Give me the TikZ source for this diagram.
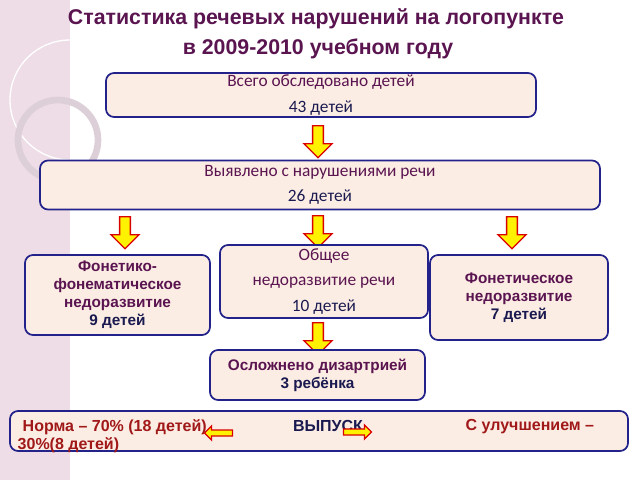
\documentclass[tikz,border=0pt]{standalone}
\usepackage{fontspec}
\setmainfont{Liberation Sans}
\newfontfamily\carl{Carlito}
\usetikzlibrary{shapes.arrows}
\definecolor{ttl}{HTML}{5A1450}
\definecolor{navy}{HTML}{1A1A50}
\definecolor{peach}{HTML}{FCEDE4}
\definecolor{bord}{HTML}{22228A}
\definecolor{dred}{HTML}{A01818}
\definecolor{strip}{HTML}{EEDDE6}
\tikzset{
 box/.style={draw=bord,line width=1.3pt,fill=peach,rounded corners=6pt,align=center,inner sep=0pt},
 cf/.style={font=\carl\fontsize{13}{19}\selectfont},
 bf/.style={font=\bfseries\fontsize{11.5}{13.5}\selectfont},
 dn/.style={single arrow,draw=red!85!black,fill=yellow,line width=1pt,shape border rotate=270,minimum height=32pt*0.75,minimum width=28pt*0.75,single arrow head extend=4pt,inner sep=2pt},
 sd/.style={single arrow,draw=red!85!black,fill=yellow,line width=1pt,minimum height=28pt*0.75,minimum width=14pt*0.75,single arrow head extend=2pt,inner sep=1pt}
}
\begin{document}
\begin{tikzpicture}[x=0.75pt,y=-0.75pt]
\useasboundingbox (0,0) rectangle (640,480);
\fill[strip] (0,0) rectangle (70,480);
\draw[white,line width=1pt] (70,100) circle (60);
\draw[strip!85!gray,line width=5pt] (58,140) circle (40);
\node[text=ttl,font=\bfseries\fontsize{16}{19}\selectfont] (t1) at (316,19) {Статистика речевых нарушений на логопункте};
\node[text=ttl,font=\bfseries\fontsize{16}{19}\selectfont] (t2) at (318,49) {в 2009-2010 учебном году};
\node[box,cf,minimum width=430*0.75pt,minimum height=44*0.75pt] (b1) at (321,95) {\textcolor{ttl}{Всего обследовано детей}\\\textcolor{navy}{43 детей}};
\node[dn] (a1) at (318,139) {};
\node[box,cf,minimum width=560*0.75pt,minimum height=49*0.75pt] (b2) at (320,185) {\textcolor{ttl}{Выявлено с нарушениями речи}\\\textcolor{navy}{26 детей}};
\node[dn] (a2) at (125,230) {};
\node[dn] (a3) at (318,229) {};
\node[dn] (a4) at (512,230) {};
\node[box,bf,minimum width=185*0.75pt,minimum height=80*0.75pt,text=ttl] (bl) at (117.5,295) {Фонетико-\\фонематическое\\недоразвитие\\\textcolor{navy}{9 детей}};
\node[box,cf,minimum width=208*0.75pt,minimum height=73*0.75pt,text=ttl] (bm) at (324,281.5) {Общее\\недоразвитие речи\\\textcolor{navy}{10 детей}};
\node[box,bf,minimum width=178*0.75pt,minimum height=85*0.75pt,text=ttl] (br) at (519,297.5) {Фонетическое\\недоразвитие\\\textcolor{navy}{7 детей}};
\node[dn] (a5) at (318,336) {};
\node[box,bf,minimum width=215*0.75pt,minimum height=50*0.75pt,text=ttl] (bd) at (317.5,375) {Осложнено дизартрией\\\textcolor{navy}{3 ребёнка}};
\node[box,minimum width=618*0.75pt,minimum height=40*0.75pt] (bb) at (319,431) {};
\node[font=\bfseries\fontsize{12}{14}\selectfont,text=dred,anchor=west] (n1) at (18,427) {Норма – 70\% (18 детей)};
\node[font=\bfseries\fontsize{12}{14}\selectfont,text=dred,anchor=west] (n2) at (13,445) {30\%(8 детей)};
\node[font=\bfseries\fontsize{12}{14}\selectfont,text=navy] (vy) at (328,426) {ВЫПУСК};
\node[font=\bfseries\fontsize{12}{14}\selectfont,text=dred,anchor=west] (n3) at (461,427) {С улучшением –};
\node[sd,shape border rotate=180] (la) at (220,433) {};
\node[sd] (ra) at (356,432) {};
\end{tikzpicture}
\end{document}
